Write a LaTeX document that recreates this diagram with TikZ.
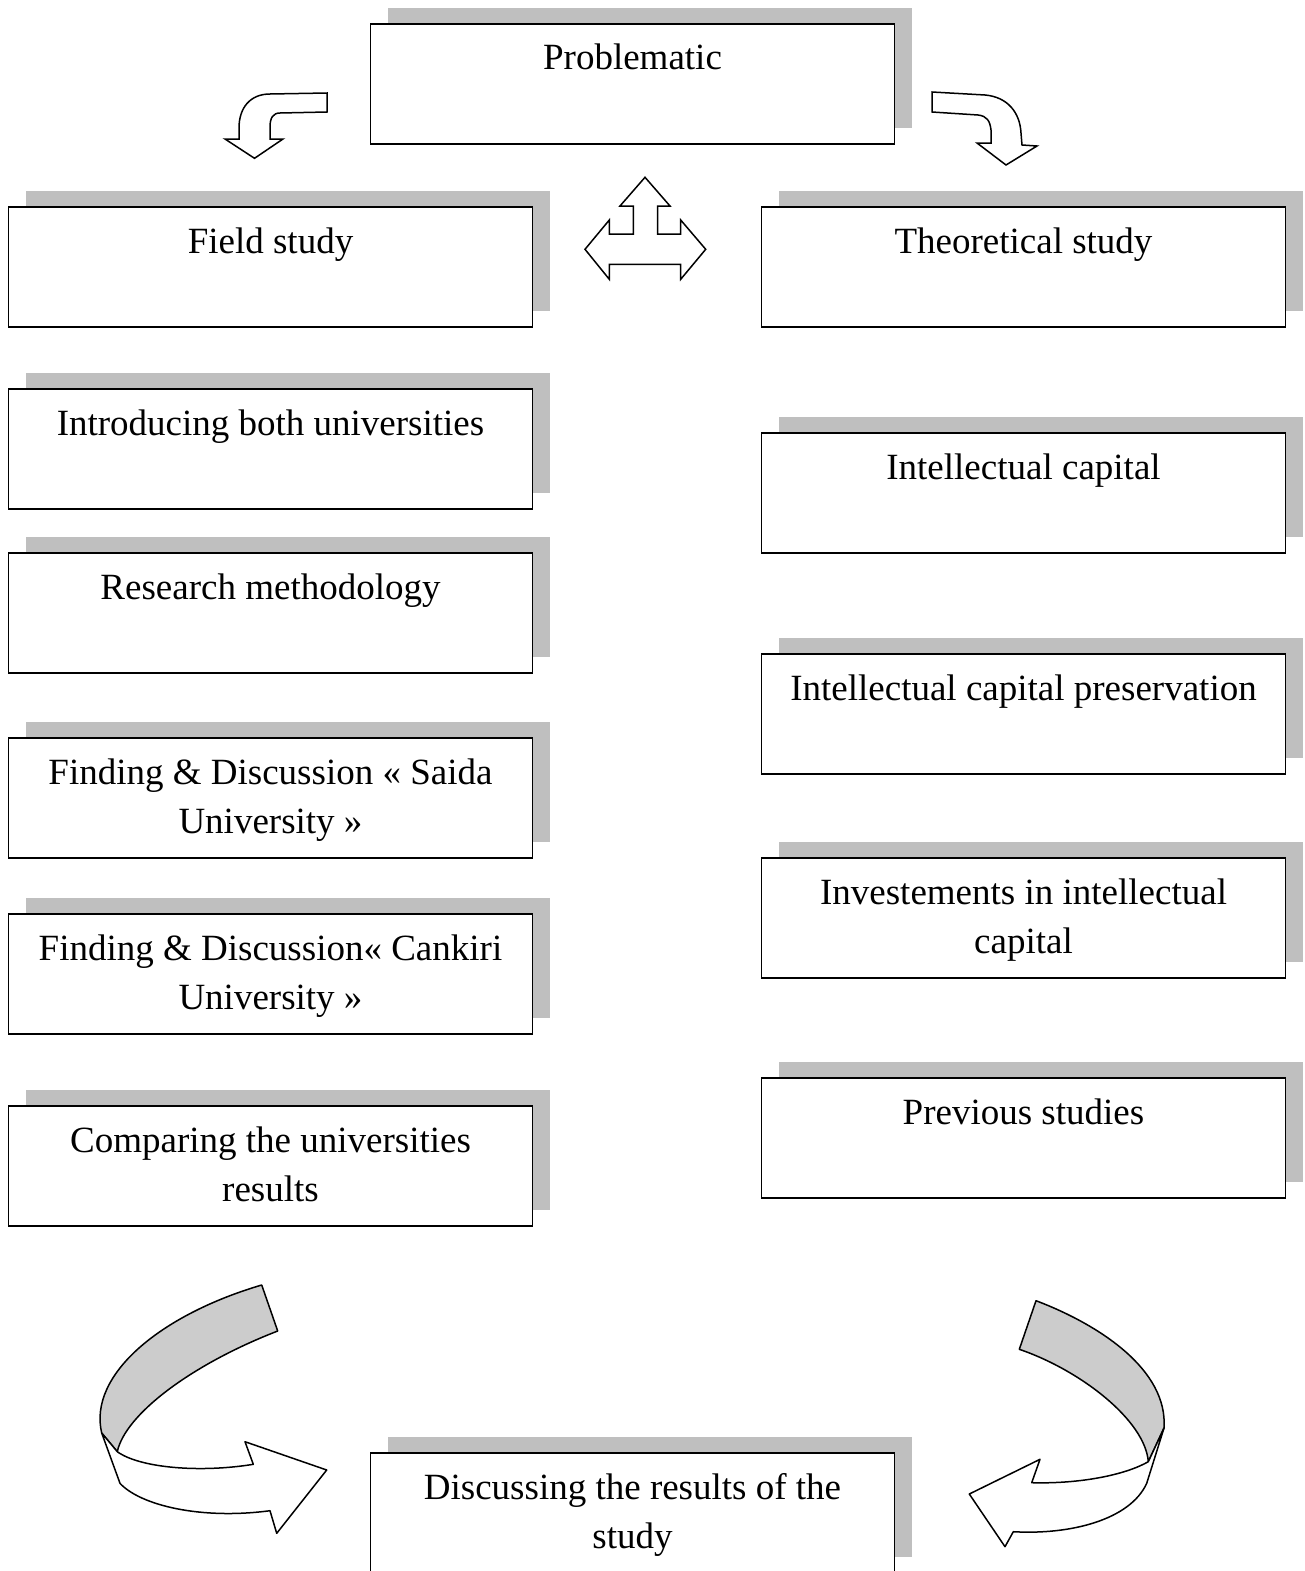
\documentclass[tikz,border=0pt]{standalone}
\usepackage{fontspec}
\setmainfont{Liberation Serif}
\definecolor{shadowgray}{HTML}{BFBFBF}
\definecolor{bandgray}{HTML}{CCCCCC}
\tikzset{
  boxst/.style={draw=black, line width=1.6pt, fill=white, minimum width=524pt, minimum height=120pt, inner sep=0pt, outer sep=0pt},
  shadowst/.style={fill=shadowgray},
  txt/.style={font=\fontsize{37}{49}\selectfont, align=center, anchor=base, inner sep=0pt},
  arrowst/.style={draw=black, line width=1.5pt, fill=white, line join=miter},
  bandst/.style={draw=black, line width=1.5pt, fill=bandgray, line join=round},
}
% #5 = offset of the last baseline below the box top
\newcommand\mkbox[5]{%
  \fill[shadowst] (#2+17,#3-16) rectangle (#2+541,#3+104);
  \node[boxst, anchor=north west] (#1) at (#2,#3) {};
  \node[txt] (#1t) at (#2+262,#3+#5) {#4};
}
\begin{document}
\begin{tikzpicture}[x=1pt,y=-1pt]
\useasboundingbox (0,0) rectangle (1304,1571);
\fill[white] (0,0) rectangle (1304,1571);

\mkbox{prob}{370.5}{24}{Problematic}{46}
\mkbox{field}{8.5}{207}{Field study}{46}
\mkbox{theo}{761.5}{207}{Theoretical study}{46}
\mkbox{intro}{8.5}{389}{Introducing both universities}{46}
\mkbox{meth}{8.5}{553}{Research methodology}{46}
\mkbox{saida}{8.5}{738}{Finding \& Discussion « Saida\\University »}{95}
\mkbox{cank}{8.5}{914}{Finding \& Discussion« Cankiri\\University »}{95}
\mkbox{comp}{8.5}{1106}{Comparing the universities\\results}{95}
\mkbox{ic}{761.5}{433}{Intellectual capital}{46}
\mkbox{icp}{761.5}{654}{Intellectual capital preservation}{46}
\mkbox{inv}{761.5}{858}{Investements in intellectual\\capital}{95}
\mkbox{prev}{761.5}{1078}{Previous studies}{46}
\mkbox{disc}{370.5}{1453}{Discussing the results of the\\study}{95}

% top-left bent arrow
\draw[arrowst] (327,93) -- (270,94) .. controls (250,94) and (239,108) .. (239,128)
  -- (239,139) -- (225,139) -- (254.5,158.3) -- (283,139) -- (270,139) -- (270,127)
  .. controls (270,118) and (273,113) .. (280,113) -- (327,112) -- cycle;

% top-right bent arrow
\draw[arrowst] (932,92) -- (985,95) .. controls (1008,97) and (1020,113) .. (1021,133)
  -- (1022,145) -- (1037,146) -- (1006,165) -- (977,143) -- (991,143) -- (991,130)
  .. controls (990,121) and (987,116) .. (978,115) -- (932,112) -- cycle;

% three-way arrow
\draw[arrowst] (645,177.3) -- (670,206) -- (657.7,206) -- (657.7,234) -- (680.7,234)
  -- (680.7,220) -- (705.7,249.3) -- (680.7,279.3) -- (680.7,264.3) -- (609.3,264.3)
  -- (609.3,279.3) -- (585,249.3) -- (609.3,220) -- (609.3,234) -- (633.3,234)
  -- (633.3,206) -- (620,206) -- cycle;

% bottom-left curved arrow
\draw[bandst] (261.7,1285) .. controls (160,1315) and (88,1375) .. (101.7,1433)
  -- (117.3,1451.7) .. controls (125,1415) and (190,1365) .. (277.7,1331) -- cycle;
\draw[arrowst, line join=round] (101.7,1433) -- (120,1483.3) .. controls (140,1505) and (200,1520) .. (270,1510.7)
  -- (276.7,1533.3) -- (326.7,1470) -- (245,1441.7) -- (253.3,1464.3)
  .. controls (200,1473) and (140,1468) .. (117.3,1451.7) -- cycle;

% bottom-right curved arrow
\draw[bandst] (1036,1300.7) .. controls (1100,1325) and (1168,1370) .. (1164,1428)
  -- (1148.3,1461.7) .. controls (1145,1420) and (1080,1370) .. (1019.3,1349.3) -- cycle;
\draw[arrowst, line join=round] (1164,1428) -- (1146.7,1483.3) .. controls (1130,1520) and (1070,1535) .. (1013.3,1531.7)
  -- (1005,1546.7) -- (969.3,1494) -- (1040,1459.3) -- (1031.7,1482.7)
  .. controls (1080,1484) and (1125,1475) .. (1148.3,1461.7) -- cycle;
\end{tikzpicture}
\end{document}
